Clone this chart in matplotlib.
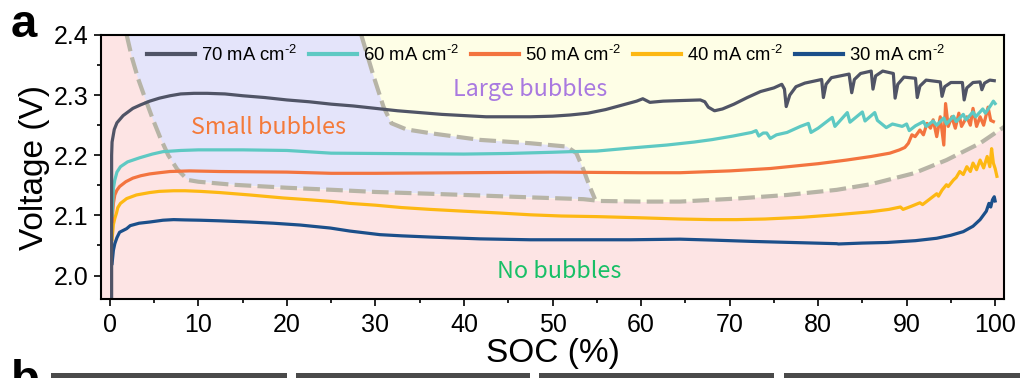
import matplotlib
matplotlib.use("Agg")
import matplotlib.pyplot as plt
from matplotlib.patches import Polygon, Rectangle
from matplotlib.ticker import MultipleLocator

plt.rcParams['font.family'] = ['Liberation Sans', 'DejaVu Sans']
plt.rcParams['mathtext.fontset'] = 'custom'
plt.rcParams['mathtext.rm'] = 'Liberation Sans'
plt.rcParams['mathtext.it'] = 'Liberation Sans:italic'
plt.rcParams['mathtext.bf'] = 'Liberation Sans:bold'

# ---------------- data ----------------
labels = ['70 mA cm$^{\u2010 2}$', '60 mA cm$^{\u2010 2}$', '50 mA cm$^{\u2010 2}$',
          '40 mA cm$^{\u2010 2}$', '30 mA cm$^{\u2010 2}$']
colors = ['#505466', '#5EC9C3', '#F3743F', '#FDB813', '#1B4F8A']

soc70 = [0.2, 0.2, 0.25, 0.5, 0.8, 1.5, 2.6, 3.5, 4.5, 5.6, 6.8, 8.0, 9.5, 11, 13, 15,
         17.5, 20, 22.5, 25, 27.5, 30, 32.5, 35, 37.5, 40, 42.5, 45, 47.5, 50, 52, 54,
         56, 58, 59.5, 60.2, 61, 62.5, 64.5, 66.7, 67.2, 67.6, 68.3, 69.2, 70.5, 72,
         73.5, 75, 75.9, 76.2, 76.4, 76.8, 77.5, 78.5, 80.4, 80.6, 80.9, 81.5, 83.5,
         83.8, 84.1, 84.8, 86.0, 86.2, 86.5, 87.3, 88.5, 88.7, 89.0, 89.7, 91.0, 91.2,
         91.5, 92.2, 93.8, 94.0, 94.3, 95.0, 96.3, 96.5, 96.8, 97.5, 98.3, 98.5, 98.8,
         99.4, 99.9]
v70 = [1.96, 2.20, 2.222, 2.243, 2.254, 2.266, 2.278, 2.284, 2.290, 2.295, 2.299, 2.302,
       2.303, 2.303, 2.302, 2.299, 2.296, 2.292, 2.289, 2.285, 2.282, 2.278, 2.274,
       2.271, 2.268, 2.266, 2.264, 2.264, 2.264, 2.265, 2.267, 2.270, 2.276, 2.284,
       2.290, 2.294, 2.288, 2.290, 2.291, 2.292, 2.289, 2.280, 2.274, 2.277, 2.285,
       2.296, 2.306, 2.312, 2.318, 2.310, 2.281, 2.300, 2.314, 2.320, 2.326, 2.296,
       2.318, 2.329, 2.335, 2.304, 2.326, 2.336, 2.340, 2.310, 2.332, 2.340, 2.336,
       2.295, 2.318, 2.330, 2.328, 2.296, 2.315, 2.325, 2.322, 2.298, 2.314, 2.321,
       2.321, 2.292, 2.312, 2.321, 2.322, 2.309, 2.320, 2.325, 2.324]

soc60 = [0.25, 0.4, 0.56, 0.8, 1.2, 2.0, 3.4, 4.8, 6.0, 8.0, 10, 12.5, 15, 20, 25, 30,
         35, 40, 45, 50, 52, 55, 58.8, 62.9, 66, 68, 70.4, 72.5, 73.0, 73.3, 73.8, 74.2,
         74.6, 75.3, 76.5, 78.0, 78.9, 79.2, 80.0, 81.6, 81.9, 83.3, 83.6, 85.0, 85.3,
         86.4, 86.7, 87.7, 88.4, 89.5, 90.0, 90.3, 91.0, 91.9, 92.2, 93.0, 93.4, 94.2,
         94.5, 95.3, 95.6, 96.4, 96.7, 97.5, 97.8, 98.6, 98.9, 99.5, 99.8, 100.0]
v60 = [2.10, 2.145, 2.159, 2.172, 2.181, 2.189, 2.196, 2.202, 2.206, 2.208, 2.209,
       2.209, 2.209, 2.208, 2.2035, 2.203, 2.2025, 2.202, 2.203, 2.205, 2.206, 2.207,
       2.212, 2.217, 2.222, 2.226, 2.232, 2.238, 2.241, 2.232, 2.237, 2.237, 2.228,
       2.234, 2.238, 2.248, 2.253, 2.238, 2.245, 2.263, 2.248, 2.271, 2.255, 2.272,
       2.257, 2.271, 2.258, 2.246, 2.252, 2.248, 2.252, 2.241, 2.249, 2.256, 2.248,
       2.257, 2.250, 2.262, 2.252, 2.265, 2.256, 2.268, 2.259, 2.272, 2.264, 2.277,
       2.270, 2.283, 2.290, 2.286]

soc50 = [0.25, 0.4, 0.56, 0.8, 1.1, 1.8, 2.6, 3.5, 4.5, 5.6, 6.8, 9, 12.4, 20, 25, 30,
         40, 50, 60, 64.4, 70, 74.6, 80, 83.2, 86, 88.1, 89.2, 89.8, 90.2, 90.6, 90.96,
         91.5, 91.9, 92.3, 92.7, 93.0, 93.4, 93.8, 94.2, 94.4, 94.7, 95.1, 95.5, 95.9,
         96.2, 96.8, 97.2, 97.5, 97.9, 98.3, 98.7, 99.2, 99.5, 99.8]
v50 = [2.09, 2.12, 2.134, 2.142, 2.148, 2.156, 2.162, 2.166, 2.169, 2.171, 2.173,
       2.174, 2.173, 2.172, 2.170, 2.170, 2.171, 2.172, 2.171, 2.171, 2.174, 2.178,
       2.186, 2.192, 2.198, 2.2035, 2.209, 2.213, 2.220, 2.234, 2.231, 2.242, 2.234,
       2.253, 2.245, 2.259, 2.231, 2.264, 2.217, 2.286, 2.248, 2.264, 2.245, 2.270,
       2.248, 2.264, 2.250, 2.278, 2.248, 2.264, 2.250, 2.280, 2.258, 2.256]

soc40 = [0.25, 0.4, 0.56, 0.75, 0.9, 1.2, 1.9, 3.0, 4.5, 5.6, 7.2, 8.5, 10.2, 12.4,
         15.8, 19.6, 22.5, 25.2, 27.1, 30, 33, 36.2, 40, 44, 47.5, 51, 55, 60, 64.4, 68,
         70.8, 74, 78.3, 82, 85.9, 88, 89.3, 89.6, 90.5, 91.5, 91.8, 92.6, 93.4, 93.6,
         94.0, 94.5, 94.7, 95.3, 95.6, 96.0, 96.4, 96.8, 97.2, 97.5, 97.9, 98.3, 98.7,
         99.1, 99.4, 99.6, 99.8, 100.0, 100.2]
v40 = [2.06, 2.085, 2.095, 2.104, 2.113, 2.120, 2.128, 2.134, 2.138, 2.140, 2.141,
       2.141, 2.140, 2.138, 2.134, 2.129, 2.126, 2.123, 2.120, 2.117, 2.113, 2.110,
       2.107, 2.104, 2.101, 2.099, 2.098, 2.096, 2.094, 2.093, 2.093, 2.094, 2.097,
       2.101, 2.106, 2.110, 2.114, 2.110, 2.115, 2.121, 2.118, 2.127, 2.136, 2.132,
       2.142, 2.151, 2.148, 2.159, 2.163, 2.173, 2.168, 2.181, 2.173, 2.187, 2.176,
       2.192, 2.179, 2.198, 2.181, 2.211, 2.187, 2.178, 2.165]

soc30 = [0.25, 0.4, 0.56, 0.8, 1.1, 1.9, 2.3, 3.3, 4.5, 6.0, 7.2, 8.5, 10.2, 12.4,
         15.8, 18.5, 21.5, 24.9, 27.1, 30.5, 33, 36.2, 41.8, 47.5, 52, 58.8, 64.4, 68,
         72.7, 77, 82.1, 82.3, 85, 87.8, 91, 93.4, 95, 96.4, 97.5, 98.3, 99.0, 99.3,
         99.5, 99.7, 99.9, 100.0]
v30 = [2.02, 2.042, 2.053, 2.063, 2.072, 2.078, 2.083, 2.087, 2.089, 2.092, 2.093,
       2.0925, 2.092, 2.091, 2.089, 2.087, 2.084, 2.079, 2.074, 2.068, 2.066, 2.064,
       2.061, 2.0595, 2.0595, 2.0595, 2.0605, 2.059, 2.0567, 2.055, 2.053, 2.0525,
       2.054, 2.055, 2.058, 2.062, 2.067, 2.073, 2.082, 2.093, 2.107, 2.120, 2.114,
       2.126, 2.131, 2.124]

# region boundaries (SOC, V)
left_soc = [1.9, 2.5, 3.2, 4.0, 4.8, 5.7, 6.6, 7.6, 8.8]
left_v = [2.40, 2.362, 2.327, 2.294, 2.262, 2.229, 2.200, 2.177, 2.159]
bot_soc = [8.8, 10, 13.9, 20, 25.2, 30, 36.2, 42, 47.5, 53.5, 55.4, 60, 64.4, 70.8,
           76.5, 82.1, 86, 90.8, 94.5, 98.3, 101.5]
bot_v = [2.159, 2.156, 2.151, 2.146, 2.1425, 2.139, 2.136, 2.133, 2.130, 2.127, 2.124,
         2.123, 2.123, 2.128, 2.134, 2.1425, 2.152, 2.170, 2.192, 2.220, 2.252]
mid_soc = [28.4, 29.8, 30.9, 31.8, 33.5, 36.2, 41.8, 47.5, 51.6, 52.7, 53.5, 54.2, 54.8]
mid_v = [2.40, 2.331, 2.281, 2.2533, 2.243, 2.2367, 2.2256, 2.220, 2.2145, 2.2035,
         2.176, 2.148, 2.127]

pink = '#FDE4E4'
lavender = '#E4E4FA'
yellow = '#FEFEE6'
dash_col = '#B7B4A6'

# ---------------- figure ----------------
fig = plt.figure(figsize=(10.23, 3.78), dpi=100)
ax = fig.add_axes([101 / 1023, 1 - 299 / 378, 903 / 1023, 264 / 378])
ax.set_xlim(-1, 101)
ax.set_ylim(1.961, 2.4)
ax.set_facecolor(pink)

# yellow region (above bottom boundary)
ax.fill_between(bot_soc, bot_v, 2.4, color=yellow, lw=0, zorder=0.5)
# lavender region
lav_pts = list(zip(left_soc, left_v)) + list(zip(bot_soc[1:10], bot_v[1:10])) + \
    list(zip(mid_soc[::-1], mid_v[::-1]))
ax.add_patch(Polygon(lav_pts, closed=True, facecolor=lavender, edgecolor='none', zorder=0.6))

# dashed borders
ax.plot(left_soc + bot_soc[1:], left_v + bot_v[1:], color=dash_col, lw=3.0,
        dashes=(4.0, 1.5), zorder=1)
ax.plot(mid_soc, mid_v, color=dash_col, lw=3.0, dashes=(4.0, 1.5), zorder=1)

series = [(soc70, v70), (soc60, v60), (soc50, v50), (soc40, v40), (soc30, v30)]
for (s, v), c, lab, z in zip(series, colors, labels, [6, 5, 4, 3, 2]):
    ax.plot(s, v, color=c, lw=2.3, label=lab, zorder=z, solid_joinstyle='round')

# region texts
ax.text(47.5, 2.3086, 'Large bubbles', color='#A979E0', fontsize=16.8,
        family='Noto Sans CJK SC', ha='center', va='center', zorder=7)
ax.text(17.9, 2.2455, 'Small bubbles', color='#F47A3A', fontsize=16.8,
        family='Noto Sans CJK SC', ha='center', va='center', zorder=7)
ax.text(50.8, 2.0068, 'No bubbles', color='#18BF66', fontsize=16.8,
        family='Noto Sans CJK SC', ha='center', va='center', zorder=7)

# axes styling
ax.xaxis.set_major_locator(MultipleLocator(10))
ax.xaxis.set_minor_locator(MultipleLocator(5))
ax.yaxis.set_major_locator(MultipleLocator(0.1))
ax.yaxis.set_minor_locator(MultipleLocator(0.05))
ax.yaxis.set_major_formatter(matplotlib.ticker.FormatStrFormatter('%.1f'))
ax.tick_params(which='major', direction='out', length=5, width=1.2, labelsize=18, pad=4)
ax.tick_params(axis='x', which='major', pad=5)
ax.tick_params(which='minor', direction='out', length=3, width=1.2)
for sp in ax.spines.values():
    sp.set_linewidth(1.5)
    sp.set_zorder(10)

ax.set_xlabel('SOC (%)', fontsize=24, labelpad=1)
ax.set_ylabel('Voltage (V)', fontsize=24, labelpad=3)

leg = ax.legend(loc='upper center', bbox_to_anchor=(0.493, 1.0), ncol=5, frameon=False,
                fontsize=13.3, handlelength=2.6, handletextpad=0.35, columnspacing=0.6,
                borderaxespad=0.12)
for h in leg.get_lines():
    h.set_linewidth(3)
leg.set_zorder(8)

fig.text(11 / 1023, 1 - 37 / 378, 'a', fontsize=34, fontweight='bold', ha='left',
         va='baseline')
fig.text(11 / 1023, 1 - 393 / 378, 'b', fontsize=34, fontweight='bold', ha='left',
         va='baseline')
for x0, x1 in [(51, 287), (296, 530), (539, 774), (784, 1020)]:
    fig.add_artist(Rectangle((x0 / 1023, 0), (x1 - x0) / 1023, 5 / 378,
                             transform=fig.transFigure, facecolor='#4A4A4A',
                             edgecolor='none'))

fig.savefig('out.png', dpi=100)
